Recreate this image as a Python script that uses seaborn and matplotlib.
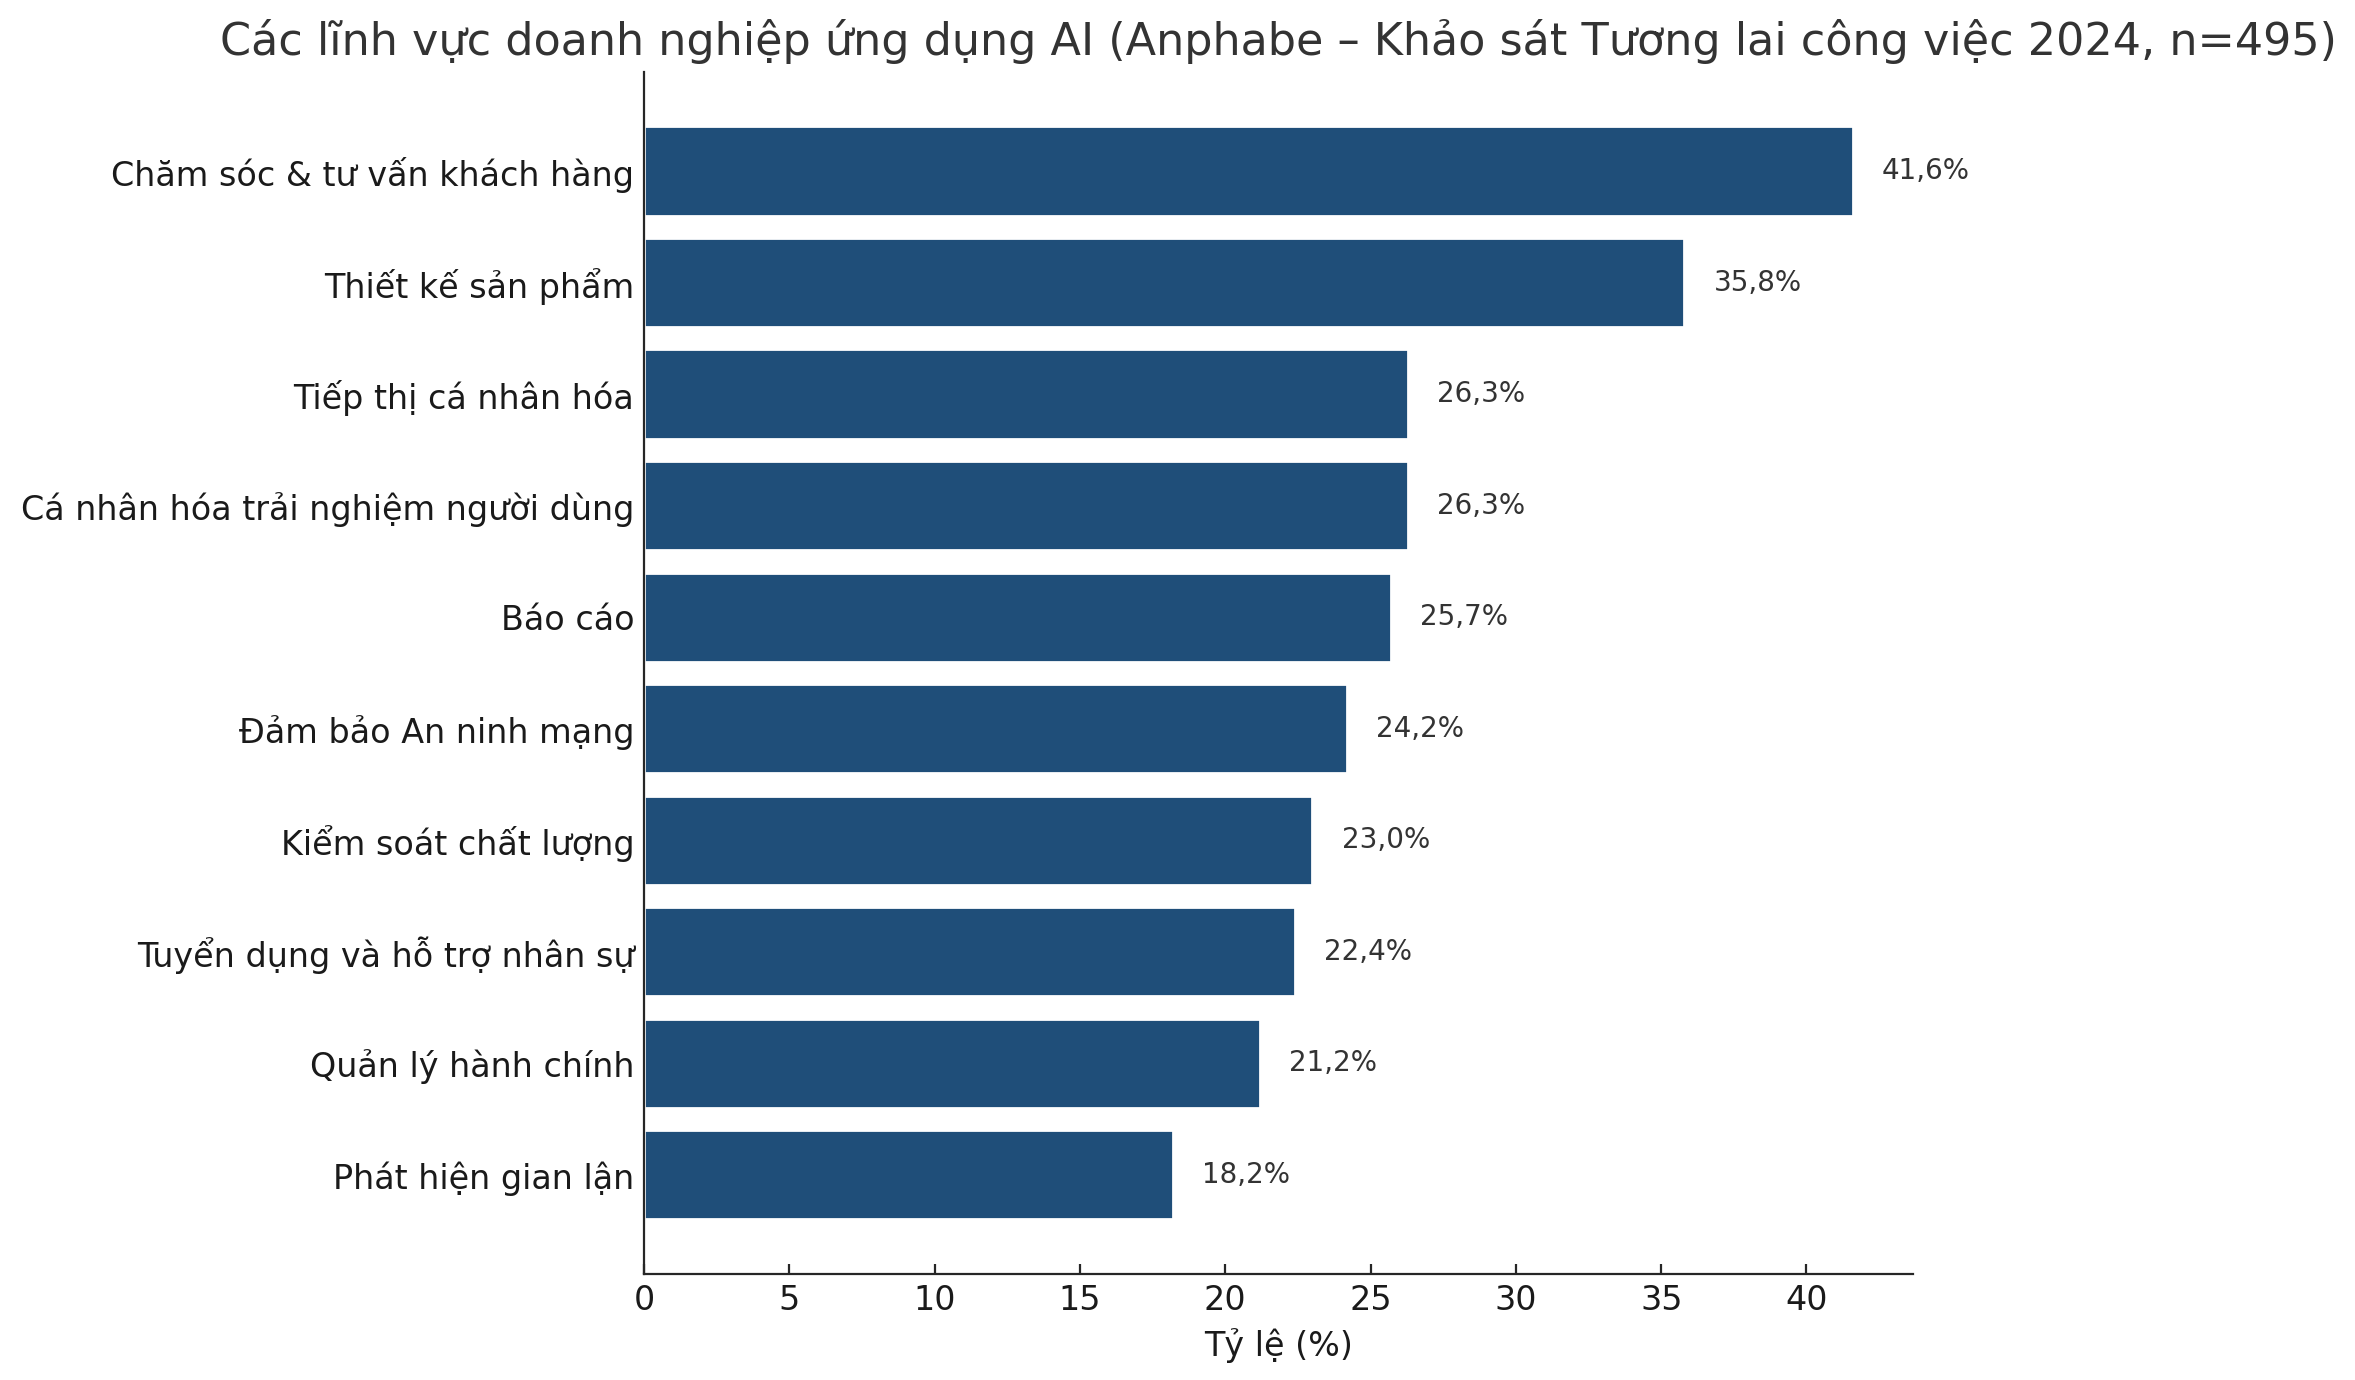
import matplotlib
matplotlib.use('Agg')
import matplotlib.pyplot as plt
import seaborn as sns
import pandas as pd

# Data
categories = [
    'Chăm sóc & tư vấn khách hàng',
    'Thiết kế sản phẩm',
    'Tiếp thị cá nhân hóa',
    'Cá nhân hóa trải nghiệm người dùng',
    'Báo cáo',
    'Đảm bảo An ninh mạng',
    'Kiểm soát chất lượng',
    'Tuyển dụng và hỗ trợ nhân sự',
    'Quản lý hành chính',
    'Phát hiện gian lận',
]
values = [41.6, 35.8, 26.3, 26.3, 25.7, 24.2, 23.0, 22.4, 21.2, 18.2]

df = pd.DataFrame({'category': categories, 'pct': values})

sns.set_style('ticks')
plt.rcParams['font.family'] = ['DejaVu Sans']
plt.rcParams['xtick.direction'] = 'in'
plt.rcParams['ytick.direction'] = 'in'

fig = plt.figure(figsize=(11.775, 6.9), dpi=200)
ax = fig.add_axes([0.2735, 0.0768, 0.539, 0.8712])

sns.barplot(data=df, x='pct', y='category', orient='h', color='#1f4e79',
            saturation=1, width=0.8, ax=ax)

ax.set_xlim(0, max(values) * 1.05)
ax.set_ylim(len(values) - 0.5 + 0.39, -0.5 - 0.39)

# value labels
for i, v in enumerate(values):
    ax.text(v + 1.0, i, f'{v:.1f}%'.replace('.', ','), va='center', ha='left',
            fontsize=10, color='#333333')

ax.set_title('Các lĩnh vực doanh nghiệp ứng dụng AI (Anphabe – Khảo sát Tương lai công việc 2024, n=495)',
             fontsize=16, color='#333333')
ax.set_xlabel('Tỷ lệ (%)', fontsize=12, color='#1a1a1a')
ax.set_ylabel('')
ax.tick_params(axis='both', labelsize=12, labelcolor='#1a1a1a')
ax.set_xticks([0, 5, 10, 15, 20, 25, 30, 35, 40])
sns.despine(ax=ax)

plt.savefig('out.png', dpi=200)
